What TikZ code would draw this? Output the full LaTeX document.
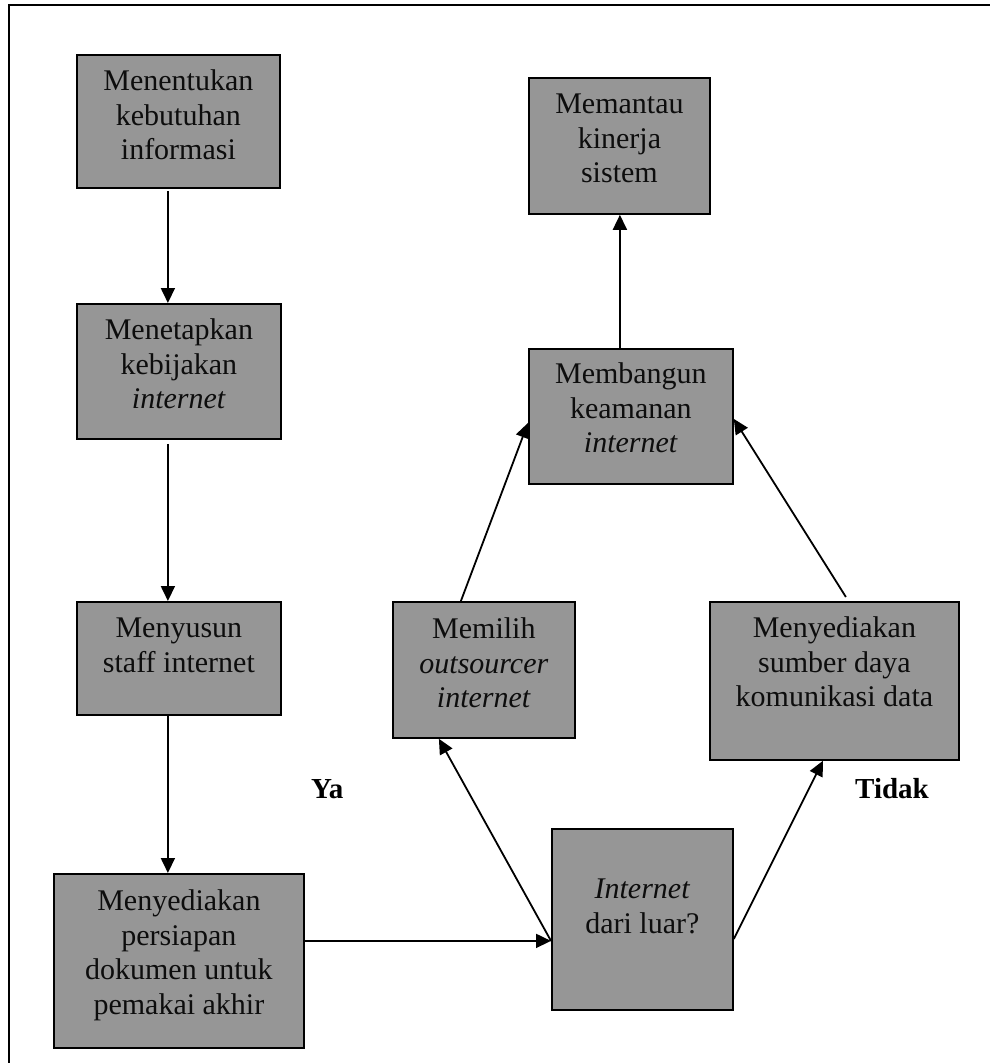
\documentclass[tikz,border=0pt]{standalone}
\usepackage{fontspec}
\setmainfont{Liberation Serif}
\usetikzlibrary{arrows.meta,calc}
\newcommand{\bxt}[4]{\parbox[c][#2pt][t]{#1pt}{\centering\rule{0pt}{#3pt}#4}}
\begin{document}
\begin{tikzpicture}[x=1pt,y=-1pt,
  stepbox/.style={draw=black, line width=1.8pt, fill=boxgray, inner sep=0pt, anchor=north west,
    font=\fontsize{30}{34.5}\selectfont, text=black!95},
  arr/.style={line width=1.8pt, -{Triangle[length=15pt,width=14pt]}},
  lbl/.style={font=\fontsize{29}{34}\selectfont\bfseries, inner sep=0pt, anchor=base west}]
\definecolor{boxgray}{RGB}{150,150,150}
\useasboundingbox (0,0) rectangle (990,1063);
% outer frame (only top and left visible)
\draw[line width=2.2pt] (9,1080) -- (9,5) -- (1010,5);
% boxes
\node[stepbox] (b1) at (76,54) {\bxt{203}{133}{36}{Menentukan\\kebutuhan\\informasi}};
\node[stepbox] (b2) at (76,303) {\bxt{204}{135}{36}{Menetapkan\\kebijakan\\\textit{internet}}};
\node[stepbox] (b3) at (76,601) {\bxt{204}{113}{36}{Menyusun\\staff internet}};
\node[stepbox] (b4) at (53,873) {\bxt{250}{174}{37}{Menyediakan\\persiapan\\dokumen untuk\\pemakai akhir}};
\node[stepbox] (inet) at (551,828) {\bxt{181}{181}{70}{\textit{Internet}\\dari luar?}};
\node[stepbox] (mem) at (392,601) {\bxt{182}{136}{37}{Memilih\\\textit{outsourcer}\\\textit{internet}}};
\node[stepbox] (sumber) at (709,601) {\bxt{249}{158}{36}{Menyediakan\\sumber daya\\komunikasi data}};
\node[stepbox] (bang) at (528,348) {\bxt{204}{135}{35}{Membangun\\keamanan\\\textit{internet}}};
\node[stepbox] (pantau) at (528,77) {\bxt{181}{136}{36}{Memantau\\kinerja\\sistem}};
% labels
\node[lbl] (ya) at (311,798) {Ya};
\node[lbl] (tidak) at (855,798) {Tidak};
% connectors
\coordinate (ip) at ([yshift=-21.5pt]inet.west);
\coordinate (op) at ([yshift=-19.5pt]inet.east);
\draw[arr] ([xshift=-10.5pt,yshift=-2pt]b1.south) -- ([xshift=-11pt]b2.north);
\draw[arr] ([xshift=-11pt,yshift=-4pt]b2.south) -- ([xshift=-11pt]b3.north);
\draw[arr] ([xshift=-11pt]b3.south) -- ([xshift=-11pt]b4.north);
\draw[arr] (b4.east |- ip) -- (ip);
\draw[arr] (ip) -- ([xshift=-45pt]mem.south);
\draw[arr] ([xshift=-23pt]mem.north) -- ([yshift=-6.5pt]bang.west);
\draw[arr] (op) -- ([xshift=-11.5pt]sumber.south);
\draw[arr] ([xshift=11.5pt,yshift=4pt]sumber.north) -- ([yshift=-2.5pt]bang.east);
\draw[arr] ([xshift=-11pt]bang.north) -- ([xshift=-11pt]bang.north |- pantau.south);
\end{tikzpicture}
\end{document}
